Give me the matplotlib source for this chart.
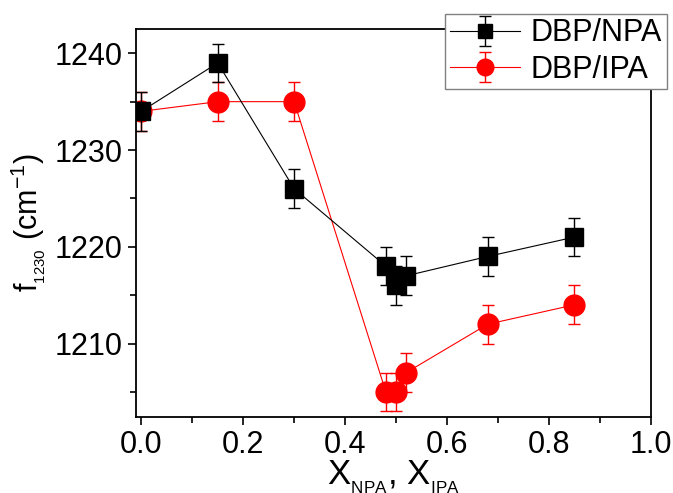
import numpy as np
import matplotlib.pyplot as plt
from matplotlib.ticker import MultipleLocator

plt.rcParams['font.family'] = ['Liberation Sans', 'DejaVu Sans']
plt.rcParams['mathtext.fontset'] = 'custom'
plt.rcParams['mathtext.rm'] = 'Liberation Sans'
plt.rcParams['mathtext.it'] = 'Liberation Sans'
plt.rcParams['mathtext.default'] = 'regular'

x_npa = [0.0, 0.15, 0.30, 0.48, 0.50, 0.52, 0.68, 0.85]
f_npa = [1234, 1239, 1226, 1218, 1216, 1217, 1219, 1221]
err_npa = [2, 2, 2, 2, 2, 2, 2, 2]

x_ipa = [0.0, 0.15, 0.30, 0.48, 0.50, 0.52, 0.68, 0.85]
f_ipa = [1234, 1235, 1235, 1205, 1205, 1207, 1212, 1214]
err_ipa = [2, 2, 2, 2, 2, 2, 2, 2]

fig = plt.figure(figsize=(6.73, 4.93), dpi=100)
ax = fig.add_axes([0.202, 0.154, 0.765, 0.787])

ax.errorbar(x_npa, f_npa, yerr=err_npa, color='black', marker='s', markersize=13,
            linewidth=0.8, elinewidth=1, capsize=4, capthick=1, label='DBP/NPA', zorder=3)
ax.errorbar(x_ipa, f_ipa, yerr=err_ipa, color='red', marker='o', markersize=15,
            linewidth=0.8, elinewidth=1, capsize=4, capthick=1, label='DBP/IPA', zorder=2)

ax.set_xlim(-0.0105, 1.0)
ax.set_ylim(1202.4, 1242.5)
ax.xaxis.set_major_locator(MultipleLocator(0.2))
ax.xaxis.set_minor_locator(MultipleLocator(0.1))
ax.yaxis.set_major_locator(MultipleLocator(10))
ax.yaxis.set_minor_locator(MultipleLocator(5))
ax.tick_params(which='major', direction='out', length=6, width=1.2, labelsize=22, pad=3.5)
ax.tick_params(which='minor', direction='out', length=4, width=1.2)
for s in ax.spines.values():
    s.set_linewidth(1.3)

ax.set_xlabel('X$_{_{NPA}}$, X$_{_{IPA}}$', fontsize=25, labelpad=-1.5)
ax.set_ylabel('f$_{_{1230}}$ (cm$^{-1}$)', fontsize=22, labelpad=5)

leg = fig.legend(loc='upper right', bbox_to_anchor=(0.995, 0.978), fontsize=22,
                 fancybox=False, framealpha=1, edgecolor='gray',
                 handlelength=2.3, borderpad=0.15, labelspacing=0.2,
                 handletextpad=0.35, borderaxespad=0.1, markerscale=0.8)
leg.get_frame().set_linewidth(1)

fig.savefig('out.png', dpi=100)
